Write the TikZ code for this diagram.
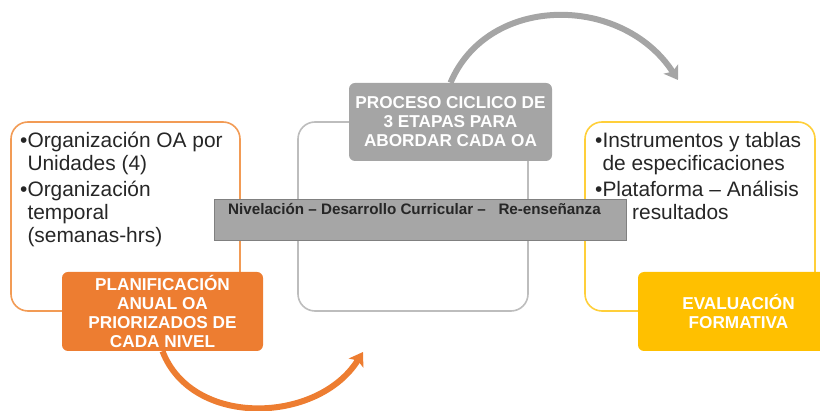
\documentclass[tikz,border=0pt]{standalone}
\usepackage{fontspec}
\setmainfont{Liberation Sans}
\usetikzlibrary{arrows.meta}
\definecolor{orfill}{HTML}{ED7D31}
\definecolor{orline}{HTML}{F29B55}
\definecolor{gyfill}{HTML}{A5A5A5}
\definecolor{gyline}{HTML}{BDBDBD}
\definecolor{yefill}{HTML}{FFC000}
\definecolor{yeline}{HTML}{FFCF3A}
\definecolor{barfill}{HTML}{A6A6A6}
\definecolor{barline}{HTML}{808080}
\definecolor{txt}{HTML}{262626}
\tikzset{
  outlinebox/.style={rounded corners=17pt, line width=1.6pt},
  fillbox/.style={draw=none, rounded corners=6pt, inner sep=0pt, text=white,
    align=center, font=\fontsize{17.2}{19}\selectfont\bfseries},
  bodytext/.style={anchor=base west, inner sep=0pt, text=txt,
    font=\fontsize{20.9}{23}\selectfont},
  cyclearrow/.style={line width=6pt, -{Stealth[length=13pt,width=17pt,inset=3pt]}}
}
\begin{document}
\begin{tikzpicture}[x=1pt,y=-1pt]
\clip (0,0) rectangle (820,411);
\useasboundingbox (0,0) rectangle (820,411);
% outline boxes
\draw[outlinebox, draw=orline] (11,122) rectangle (240,311);
\draw[outlinebox, draw=gyline] (298,122) rectangle (528,311);
\draw[outlinebox, draw=yeline] (585,122) rectangle (815,311);
% left text
\node[bodytext] (l1) at (20,148) {•Organización OA por};
\node[bodytext] (l2) at (20,171) {\phantom{•}Unidades (4)};
\node[bodytext] (l3) at (20,197) {•Organización};
\node[bodytext] (l4) at (20,220) {\phantom{•}temporal};
\node[bodytext] (l5) at (20,243) {\phantom{•}(semanas-hrs)};
% right text
\node[bodytext] (r1) at (595,148) {•Instrumentos y tablas};
\node[bodytext] (r2) at (595,171) {\phantom{•}de especificaciones};
\node[bodytext] (r3) at (595,197) {•Plataforma – Análisis};
\node[bodytext] (r4) at (632,220) {resultados};
% filled boxes
\node[fillbox, fill=orfill, minimum width=201pt, minimum height=79pt] (plan) at (162.5,311.5)
  {PLANIFICACIÓN\\ANUAL OA\\PRIORIZADOS DE\\CADA NIVEL};
\node[fillbox, fill=gyfill, minimum width=203pt, minimum height=78pt] (proc) at (450.5,122)
  {PROCESO CICLICO DE\\3 ETAPAS PARA\\ABORDAR CADA OA};
\node[fillbox, fill=yefill, minimum width=201pt, minimum height=79pt] (eval) at (738.5,311.5)
  {EVALUACIÓN\\FORMATIVA};
% bar
\node[draw=barline, fill=barfill, line width=1pt, minimum width=412pt, minimum height=41pt,
  inner sep=0pt] (bar) at (420,220.5) {};
\node[anchor=base west, inner sep=0pt, text=black!85,
  font=\fontsize{15.2}{16}\selectfont\bfseries] (bartext) at (228,215)
  {Nivelación – Desarrollo Curricular –\ \ \ Re-enseñanza};
% arrows
\coordinate (oend) at (363,352);
\coordinate (gend) at (678,80);
\draw[cyclearrow, draw=orfill] (plan.south) .. controls (192,428) and (318,424) .. (oend);
\draw[cyclearrow, draw=gyfill] (proc.north) .. controls (488,-6) and (622,-6) .. (gend);
\end{tikzpicture}
\end{document}
